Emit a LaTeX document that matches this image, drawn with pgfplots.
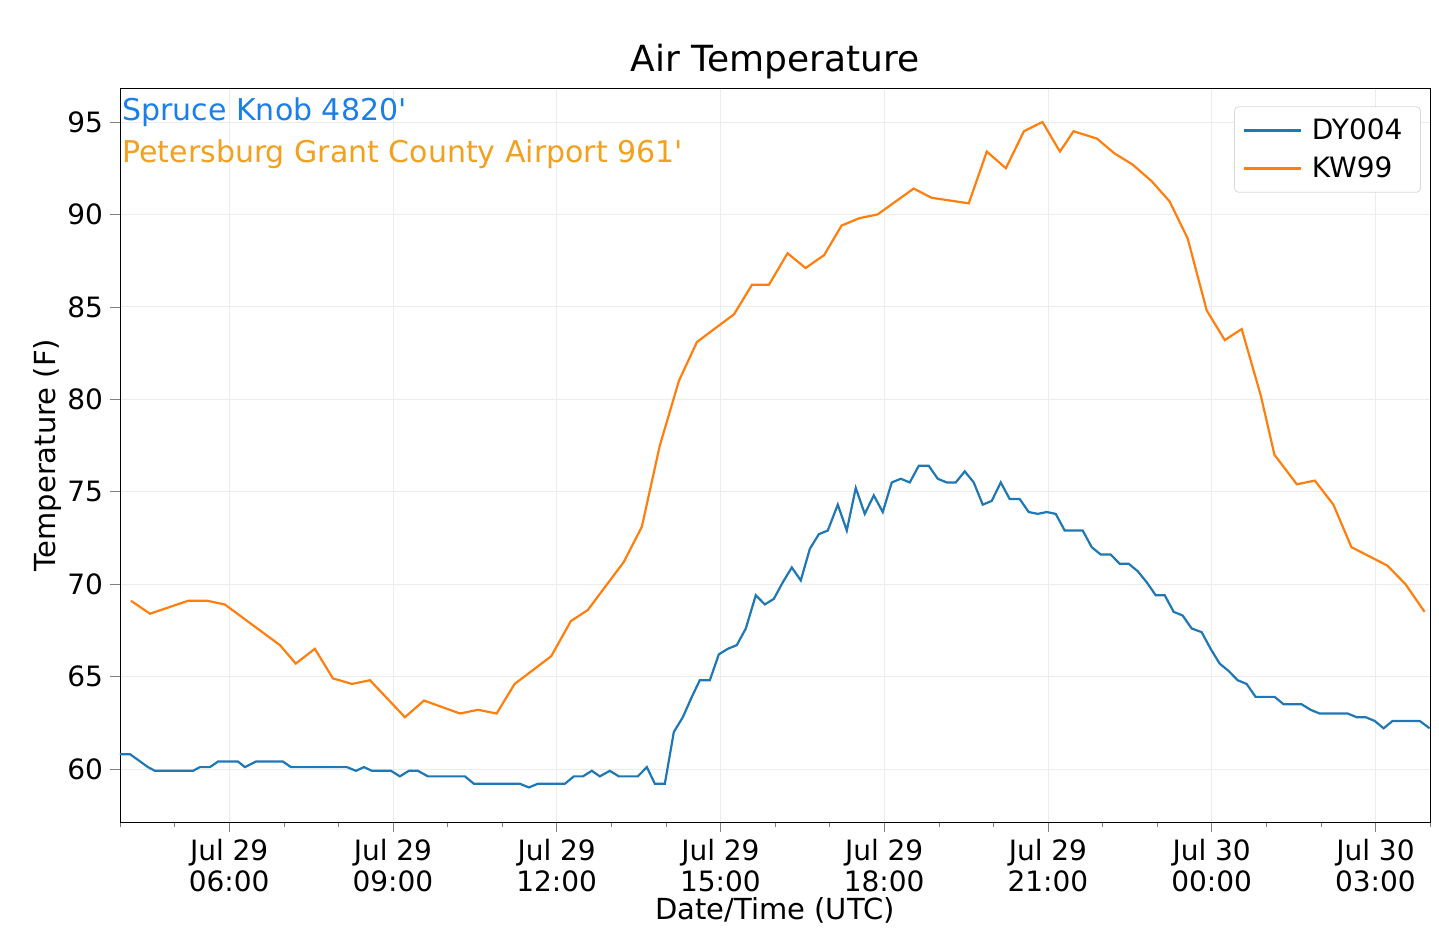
\documentclass[border=0pt]{standalone}
\usepackage{pgfplots}
\pgfplotsset{compat=1.18}
\usepackage{fontspec}
\setmainfont{DejaVu Sans}
\definecolor{cz}{HTML}{1F77B4}
\definecolor{co}{HTML}{FF7F0E}
\definecolor{tb}{HTML}{1A7FE8}
\definecolor{to}{HTML}{F2A11E}
\begin{document}
\begin{tikzpicture}
\begin{axis}[scale only axis, width=655pt, height=367pt,
 xmin=4, xmax=28, ymin=57.13, ymax=96.84,
 xtick={6,9,12,15,18,21,24,27},
 xticklabels={{Jul 29\\06:00},{Jul 29\\09:00},{Jul 29\\12:00},{Jul 29\\15:00},{Jul 29\\18:00},{Jul 29\\21:00},{Jul 30\\00:00},{Jul 30\\03:00}},
 xticklabel style={align=center},
 minor xtick={4,5,...,28},
 ytick={60,65,...,95},
 tick align=outside, tick pos=left,
 major tick length=5pt, minor tick length=2.5pt,
 grid=major, grid style={gray!15},
 ticklabel style={font=\fontsize{14}{15.5}\selectfont},
 /pgf/number format/assume math mode=true,
 xlabel={Date/Time (UTC)}, ylabel={Temperature (F)},
 label style={font=\fontsize{14.5}{16}\selectfont},
 xlabel style={yshift=4pt}, ylabel style={yshift=-4pt},
 title={Air Temperature}, title style={font=\fontsize{18}{20}\selectfont, yshift=-5pt},
 legend style={at={(0.993,0.975)}, anchor=north east, font=\fontsize{14}{16}\selectfont, draw=gray!30, rounded corners=2pt, row sep=3pt, inner sep=4pt, nodes={inner xsep=5pt}},
 legend cell align=left,
 legend image code/.code={\draw[#1, line width=1.2pt] (0cm,0cm) -- (1.0cm,0cm);},
]
\addplot[cz, line width=1.1pt] table[x expr={4+(\thisrowno{0}-120)/54.6}, y index=1] {
120 60.8
130 60.8
148 60.1
155 59.9
193 59.9
200 60.1
210 60.1
218 60.4
238 60.4
245 60.1
256 60.4
283 60.4
291 60.1
347 60.1
356 59.9
364 60.1
372 59.9
391 59.9
400 59.6
409 59.9
418 59.9
428 59.6
465 59.6
474 59.2
520 59.2
529 59.0
538 59.2
565 59.2
574 59.6
583 59.6
592 59.9
600 59.6
610 59.9
619 59.6
638 59.6
647 60.1
655 59.2
665 59.2
674 62.0
683 62.8
692 63.9
700 64.8
710 64.8
719 66.2
728 66.5
737 66.7
746 67.6
756 69.4
765 68.9
774 69.2
783 70.1
792 70.9
801 70.2
810 71.9
819 72.7
828 72.9
838 74.3
847 72.9
856 75.2
865 73.8
874 74.8
883 73.9
892 75.5
901 75.7
910 75.5
919 76.4
929 76.4
938 75.7
947 75.5
956 75.5
965 76.1
974 75.5
983 74.3
992 74.5
1001 75.5
1010 74.6
1020 74.6
1029 73.9
1038 73.8
1047 73.9
1056 73.8
1065 72.9
1083 72.9
1092 72.0
1101 71.6
1111 71.6
1120 71.1
1129 71.1
1138 70.7
1147 70.1
1156 69.4
1165 69.4
1174 68.5
1183 68.3
1192 67.6
1202 67.4
1211 66.5
1220 65.7
1229 65.3
1238 64.8
1247 64.6
1256 63.9
1275 63.9
1284 63.5
1302 63.5
1311 63.2
1320 63.0
1348 63.0
1357 62.8
1366 62.8
1375 62.6
1384 62.2
1393 62.6
1420 62.6
1430 62.2
};
\addlegendentry{DY004}
\addplot[co, line width=1.1pt] table {
4.2 69.1
4.55 68.4
5.25 69.1
5.6 69.1
5.92 68.9
6.93 66.7
7.22 65.7
7.57 66.5
7.9 64.9
8.25 64.6
8.58 64.8
9.22 62.8
9.57 63.7
10.23 63.0
10.56 63.2
10.9 63.0
11.23 64.6
11.9 66.1
12.26 68.0
12.57 68.6
12.9 69.9
13.23 71.2
13.56 73.1
13.89 77.5
14.24 81.0
14.57 83.1
15.25 84.6
15.58 86.2
15.89 86.2
16.23 87.9
16.56 87.1
16.9 87.8
17.22 89.4
17.55 89.8
17.88 90.0
18.54 91.4
18.87 90.9
19.55 90.6
19.88 93.4
20.23 92.5
20.56 94.5
20.9 95.0
21.22 93.4
21.47 94.5
21.9 94.1
22.22 93.3
22.55 92.7
22.9 91.8
23.23 90.7
23.56 88.7
23.91 84.8
24.24 83.2
24.55 83.8
24.9 80.2
25.15 77.0
25.56 75.4
25.89 75.6
26.23 74.3
26.56 72.0
27.22 71.0
27.55 70.0
27.9 68.5
};
\addlegendentry{KW99}
\node[anchor=north west, inner sep=1pt, text=tb, font=\fontsize{15}{17}\selectfont] at (rel axis cs:0,0.99) {Spruce Knob 4820\textquotesingle};
\node[anchor=north west, inner sep=1pt, text=to, font=\fontsize{15}{17}\selectfont] at (rel axis cs:0,0.933) {Petersburg Grant County Airport 961\textquotesingle};
\end{axis}
\path (current axis.south west) ++(-60pt,-61.5pt) coordinate (a);
\path (current axis.north east) ++(4.5pt,44pt) coordinate (b);
\useasboundingbox (a) rectangle (b);
\end{tikzpicture}
\end{document}
